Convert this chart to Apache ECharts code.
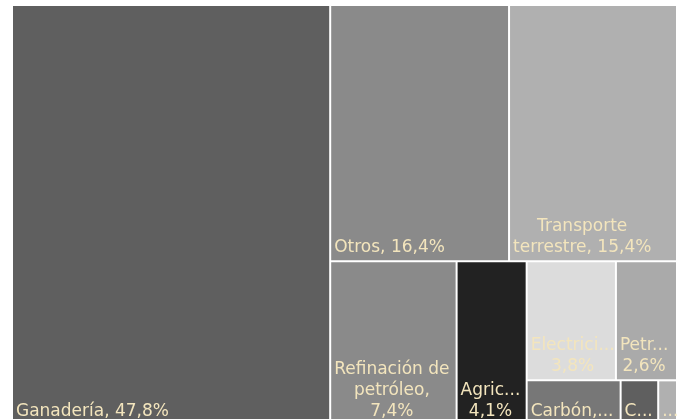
<!DOCTYPE html>
<html>
<head>
<meta charset="utf-8">
<script src="https://cdn.jsdelivr.net/npm/echarts@6/dist/echarts.min.js"></script>
<style>html,body{margin:0;padding:0;background:#fff;}#c{width:679px;height:419px;}</style>
</head>
<body>
<div id="c"></div>
<script>
const categories = ['Ganadería', 'Otros', 'Transporte terrestre', 'Refinación de petróleo', 'Agricultura', 'Electricidad', 'Petróleo', 'Carbón', 'Cemento', 'Residuos'];
const shares = [47.8, 16.4, 15.4, 7.4, 4.1, 3.8, 2.6, 1.5, 0.6, 0.3];
const colors = ['#5f5f5f', '#8a8a8a', '#b0b0b0', '#8a8a8a', '#222222', '#dcdcdc', '#aaaaaa', '#777777', '#5f5f5f', '#b0b0b0'];

// tiling order of the rectangles (indices into categories); grouping only steers the squarified layout
const tiling = [0, [1, 2, [3, 4, [[5, 6], [7, 8, 9]]]]];

const FONT_SIZE = 17, LINE_H = 21, FONT_FAMILY = 'DejaVu Sans';
const PAD_X = 3, PAD_B = 2, TEXT_INSET = 3;
const TEXT_COLOR = '#f3e5bd';

function fmt(v) { return v.toFixed(1).replace('.', ','); }

// text measuring for wrap / truncation inside each tile
const ctx = document.createElement('canvas').getContext('2d');
ctx.font = FONT_SIZE + 'px "' + FONT_FAMILY + '"';
const mw = s => ctx.measureText(s).width;
function cut(line, w) {
  for (let k = line.length; k >= 0; k--) {
    const s = line.slice(0, k).replace(/\s+$/, '') + '...';
    if (mw(s) <= w) return s;
  }
  return '...';
}
function wrapLabel(text, w, h) {
  const words = text.split(' ');
  let lines = [], cur = '';
  words.forEach(word => {
    const cand = cur ? cur + ' ' + word : word;
    if (mw(cand) <= w || !cur) cur = cand; else { lines.push(cur); cur = word; }
  });
  if (cur) lines.push(cur);
  const truncated = lines.map(l => mw(l) > w);
  lines = lines.map((l, i) => truncated[i] ? cut(l, w) : l);
  const maxLines = Math.max(1, Math.floor((h - 6) / LINE_H));
  if (lines.length > maxLines) {
    const last = maxLines - 1;
    lines = lines.slice(0, maxLines);
    if (!truncated[last]) {
      const s = lines[last].replace(/\s+$/, '') + '...';
      lines[last] = mw(s) <= w ? s : cut(lines[last], w);
    }
  }
  return lines;
}

function leaf(i, sizes) {
  const name = categories[i];
  const node = { name: name, value: shares[i], itemStyle: { color: colors[i] } };
  const full = name + ', ' + fmt(shares[i]) + '%';
  if (sizes && sizes[name]) {
    const [w, h] = sizes[name];
    const lines = wrapLabel(full, w - TEXT_INSET, h);
    const blockW = Math.max(...lines.map(mw));
    node.label = {
      formatter: lines.join('\n'),
      position: [PAD_X + blockW / 2, h - PAD_B],
      align: 'center',
      verticalAlign: 'bottom',
      overflow: 'none'
    };
  } else {
    node.label = { show: false };
  }
  return node;
}
function build(node, sizes) {
  if (typeof node === 'number') return leaf(node, sizes);
  return { name: '', children: node.map(n => build(n, sizes)), itemStyle: { color: '#ffffff' } };
}

function makeOption(sizes) {
  return {
    animation: false,
    tooltip: { show: false },
    series: [{
      type: 'treemap',
      left: 13, top: 6, width: 663, height: 418,
      roam: false,
      nodeClick: false,
      sort: false,
      squareRatio: 1,
      breadcrumb: { show: false },
      itemStyle: { gapWidth: 2, borderWidth: 0, borderColor: '#fff' },
      upperLabel: { show: false },
      label: {
        show: true,
        color: TEXT_COLOR,
        fontFamily: FONT_FAMILY,
        fontSize: FONT_SIZE,
        lineHeight: LINE_H,
        padding: 0
      },
      data: tiling.map(n => build(n, sizes))
    }]
  };
}

const chart = echarts.init(document.getElementById('c'), null, { renderer: 'canvas' });
chart.setOption(makeOption(null));
// second pass: read tile sizes computed by ECharts' treemap layout, then place the labels
const sData = chart.getModel().getSeriesByIndex(0).getData();
const sizes = {};
sData.each(idx => {
  const lay = sData.getItemLayout(idx);
  const nm = sData.getName(idx);
  if (lay && categories.includes(nm)) sizes[nm] = [lay.width, lay.height];
});
chart.setOption(makeOption(sizes), true);
</script>
</body>
</html>
